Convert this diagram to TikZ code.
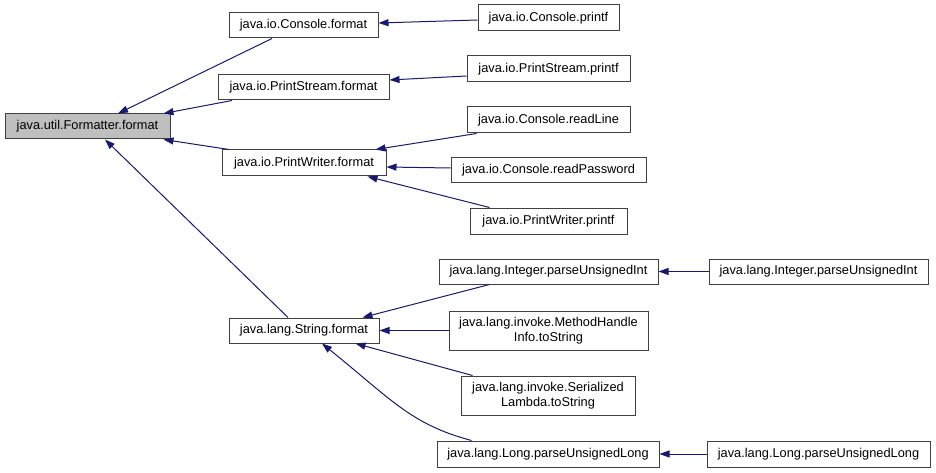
\documentclass[tikz,border=0pt]{standalone}
\usepackage{fontspec}
\setmainfont{Liberation Sans}
\usetikzlibrary{arrows.meta,calc}
\definecolor{edgeblue}{HTML}{191970}
\definecolor{boxline}{HTML}{404040}
\definecolor{boxgray}{HTML}{BFBFBF}
\begin{document}
\begin{tikzpicture}[x=1pt,y=-1pt,
  box/.style={draw=boxline,line width=1pt,fill=white,inner sep=0pt,align=center,
    font=\fontsize{12.8}{15}\selectfont},
  edge/.style={draw=edgeblue,line width=1pt,-{Triangle[length=10pt,width=7pt]}}]
\useasboundingbox (0,0) rectangle (936,473);
% nodes
\node[box,fill=boxgray,minimum width=165pt,minimum height=25pt] (F) at (87.5,126.5) {java.util.Formatter.format};
\node[box,minimum width=149pt,minimum height=25pt] (CF) at (303.5,25.5) {java.io.Console.format};
\node[box,minimum width=171pt,minimum height=25pt] (PSF) at (303.5,87.5) {java.io.PrintStream.format};
\node[box,minimum width=164pt,minimum height=26pt] (PWF) at (304,163) {java.io.PrintWriter.format};
\node[box,minimum width=141pt,minimum height=26pt] (CP) at (548.5,18) {java.io.Console.printf};
\node[box,minimum width=163pt,minimum height=26pt] (PSP) at (548.5,69) {java.io.PrintStream.printf};
\node[box,minimum width=163pt,minimum height=26pt] (CRL) at (548.5,120) {java.io.Console.readLine};
\node[box,minimum width=195pt,minimum height=25pt] (CRP) at (548.5,170.5) {java.io.Console.readPassword};
\node[box,minimum width=157pt,minimum height=26pt] (PWP) at (548.5,221) {java.io.PrintWriter.printf};
\node[box,minimum width=150pt,minimum height=25pt] (SF) at (304,330.5) {java.lang.String.format};
\node[box,minimum width=219pt,minimum height=25pt] (IPm) at (548.5,271.5) {java.lang.Integer.parseUnsignedInt};
\node[box,minimum width=199pt,minimum height=39pt] (MHI) at (548.5,330.5) {java.lang.invoke.MethodHandle\\Info.toString};
\node[box,minimum width=174pt,minimum height=39pt] (SL) at (548,395.5) {java.lang.invoke.Serialized\\Lambda.toString};
\node[box,minimum width=222pt,minimum height=26pt] (LPm) at (548,454) {java.lang.Long.parseUnsignedLong};
\node[box,minimum width=219pt,minimum height=25pt] (IPr) at (818.5,271.5) {java.lang.Integer.parseUnsignedInt};
\node[box,minimum width=223pt,minimum height=26pt] (LPr) at (818.5,454) {java.lang.Long.parseUnsignedLong};
% edges
\draw[edge] ($(CF.south)+(-31.5,0)$) -- ($(F.north)+(30.5,0)$);
\draw[edge] ($(PSF.south)+(-71.5,0)$) -- ($(F.north east)+(-7,0)$);
\draw[edge] ($(PWF.north)+(-75,0)$) -- ($(F.south east)+(-7,0)$);
\draw[edge] ($(SF.north)+(-16,0)$) -- ($(F.south)+(17.5,0)$);
\draw[edge] ($(CP.west)+(0,2)$) -- ($(CF.east)+(0,-2.5)$);
\draw[edge] ($(PSP.west)+(0,7)$) -- ($(PSF.east)+(0,-7.5)$);
\draw[edge] ($(CRL.south west)+(10,0)$) -- ($(PWF.north east)+(-11,0)$);
\draw[edge] ($(CRP.west)+(0,-2.5)$) -- ($(PWF.east)+(0,4)$);
\draw[edge] ($(PWP.north west)+(20,0)$) -- ($(PWF.south east)+(-19,0)$);
\draw[edge] ($(IPm.south west)+(51,0)$) -- ($(SF.north east)+(-17,0)$);
\draw[edge] (MHI.west) -- (SF.east);
\draw[edge] ($(SL.north west)+(12,0)$) -- ($(SF.south east)+(-24,0)$);
\draw[edge] ($(LPm.north west)+(35,0)$) .. controls (410.7,424.3) and (391.3,399.4) .. ($(SF.south)+(18,0)$);
\draw[edge] (IPr.west) -- (IPm.east);
\draw[edge] (LPr.west) -- (LPm.east);
\end{tikzpicture}
\end{document}
